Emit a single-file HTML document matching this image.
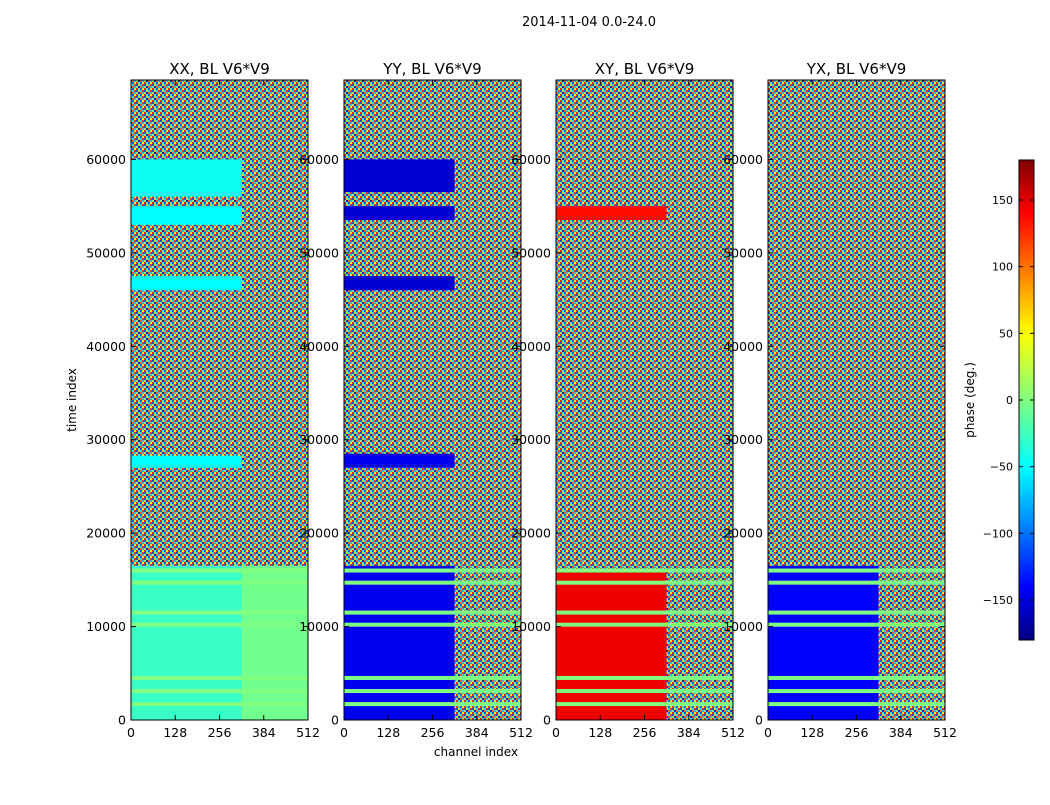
<!DOCTYPE html>
<html><head><meta charset="utf-8"><style>
body{margin:0;background:#fff;font-family:"Liberation Sans","DejaVu Sans",sans-serif}
svg text{font-family:"DejaVu Sans","Liberation Sans",sans-serif}
</style></head><body>
<svg id="c" width="1050" height="800" viewBox="0 0 1050 800">
<defs>
<pattern id="noise" width="8" height="6" patternUnits="userSpaceOnUse">
<rect width="8" height="6" fill="#40c0a0"/>
<rect x="0" y="0" width="2" height="2" fill="#0050ff"/><rect x="2" y="0" width="2" height="2" fill="#ffd000"/>
<rect x="4" y="0" width="2" height="2" fill="#20e0ff"/><rect x="6" y="0" width="2" height="2" fill="#ff3000"/>
<rect x="0" y="2" width="2" height="2" fill="#90ff60"/><rect x="2" y="2" width="2" height="2" fill="#0020d0"/>
<rect x="4" y="2" width="2" height="2" fill="#ff6000"/><rect x="6" y="2" width="2" height="2" fill="#30b0ff"/>
<rect x="0" y="4" width="2" height="2" fill="#ff2000"/><rect x="2" y="4" width="2" height="2" fill="#40ffb0"/>
<rect x="4" y="4" width="2" height="2" fill="#0060ff"/><rect x="6" y="4" width="2" height="2" fill="#e0ff20"/>
</pattern>
<linearGradient id="jet" x1="0" y1="1" x2="0" y2="0">
<stop offset="0" stop-color="#000080"/><stop offset="0.11" stop-color="#0000ff"/><stop offset="0.36" stop-color="#00ffff"/>
<stop offset="0.5" stop-color="#80ff80"/><stop offset="0.64" stop-color="#ffff00"/><stop offset="0.89" stop-color="#ff0000"/><stop offset="1" stop-color="#800000"/>
</linearGradient>
</defs>
</svg>
<script>
const panelNames=["XX, BL V6*V9","YY, BL V6*V9","XY, BL V6*V9","YX, BL V6*V9"];
const panelX=[131,344,556,768];
const xTicks=[0,128,256,384,512];
const yTicks=[0,10000,20000,30000,40000,50000,60000];
const cbTicks=[-150,-100,-50,0,50,100,150];
// bands: [tStart,tEnd,leftPhase(ch<320),rightPhase(ch>=320)]; null = noisy
const bandsXX=[[0,68500,null,null],[0,16500,-25,-5],[27000,28300,-45,null],[46000,47500,-45,null],[53000,55000,-45,null],[56000,60000,-40,null]];
const bandsYY=[[0,68500,null,null],[0,16500,-140,null],[27000,28500,-140,null],[46000,47500,-150,null],[53500,55000,-150,null],[56500,60000,-150,null]];
const bandsXY=[[0,68500,null,null],[0,16000,140,null],[53500,55000,130,null]];
const bandsYX=[[0,68500,null,null],[0,16500,-135,null]];
const flagRows=[1700,3100,4500,10200,11500,14700,16000];
const allBands=[bandsXX,bandsYY,bandsXY,bandsYX];
const svg=document.getElementById('c');const NS="http://www.w3.org/2000/svg";
const y0=720,yPer=640/68500,W=177;
const ys=t=>y0-t*yPer;const xs=(px,ch)=>px+ch/512*W;
function jet(v){let f=(v+180)/360;const c=x=>Math.max(0,Math.min(1,1.5-Math.abs(4*f-x)));return `rgb(${Math.round(255*c(3))},${Math.round(255*c(2))},${Math.round(255*c(1))})`;}
function el(t,a,txt){const e=document.createElementNS(NS,t);for(const k in a)e.setAttribute(k,a[k]);if(txt!=null)e.textContent=txt;svg.appendChild(e);return e;}
let t=el('text',{x:589,y:26,'font-size':13,'text-anchor':'middle'},"2014-11-04 0.0-24.0");


allBands.forEach((bands,p)=>{const px=panelX[p];
 bands.forEach(b=>{[[0,320,b[2]],[320,512,b[3]]].forEach(s=>{
  if(s[2]===null && !(b[0]===0&&b[1]===68500))return;
  const r=el('rect',{x:xs(px,s[0]),y:ys(b[1]),width:xs(px,s[1])-xs(px,s[0]),height:ys(b[0])-ys(b[1]),fill:s[2]===null?'url(#noise)':jet(s[2])});
  
  });});
 flagRows.forEach(fr=>{const r=el('rect',{x:px,y:ys(fr)-2,width:W,height:4,fill:jet(0)});
  
  });
 const f=el('rect',{x:px,y:80,width:W,height:640,fill:'none',stroke:'#000','stroke-width':1});
 
 
 const ti=el('text',{x:px+W/2,y:74,'font-size':15,'text-anchor':'middle'},panelNames[p]);
 
 
 xTicks.forEach(v=>{const x=xs(px,v);el('line',{x1:x,x2:x,y1:720,y2:715,stroke:'#000'});el('line',{x1:x,x2:x,y1:80,y2:85,stroke:'#000'});
  const l=el('text',{x:x,y:737,'font-size':12.5,'text-anchor':'middle'},v);
  
  });
 yTicks.forEach(v=>{const y=ys(v);el('line',{x1:px,x2:px+5,y1:y,y2:y,stroke:'#000'});el('line',{x1:px+W,x2:px+W-5,y1:y,y2:y,stroke:'#000'});
  const l=el('text',{x:px-5,y:y+4.5,'font-size':12.5,'text-anchor':'end'},v);
  
  });
});
t=el('text',{x:476,y:756,'font-size':12,'text-anchor':'middle'},"channel index");


t=el('text',{x:76,y:400,'font-size':12,'text-anchor':'middle',transform:'rotate(-90 76 400)'},"time index");


const cb=el('rect',{x:1019,y:160,width:15,height:480,fill:'url(#jet)',stroke:'#000'});


cbTicks.forEach(v=>{const y=400-v*480/360;el('line',{x1:1019,x2:1023,y1:y,y2:y,stroke:'#000'});el('line',{x1:1034,x2:1030,y1:y,y2:y,stroke:'#000'});
 const l=el('text',{x:1013,y:y+4,'font-size':11,'text-anchor':'end'},v<0?'\u2212'+(-v):v);
 
 });
t=el('text',{x:974,y:400,'font-size':12,'text-anchor':'middle',transform:'rotate(-90 974 400)'},"phase (deg.)");


</script>
</body></html>
